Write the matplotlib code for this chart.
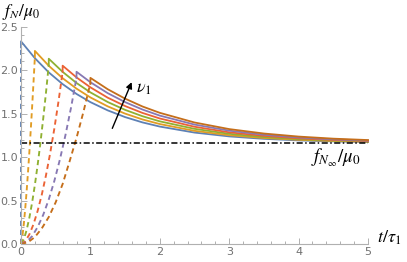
import numpy as np
import matplotlib
matplotlib.use("Agg")
import matplotlib.pyplot as plt
from matplotlib.ticker import MultipleLocator

plt.rcParams['mathtext.fontset'] = 'stix'

colors = ['#5E81B5', '#E19C24', '#8FB032', '#EB6235', '#8778B3', '#C56E1A']

# switch times and peak values
t_switch = [0.0, 0.2, 0.4, 0.6, 0.8, 1.0]
peaks = [2.33, 2.22, 2.13, 2.05, 1.98, 1.91]
f_inf = 1.164

# solid curves on a shared time grid (nan before each switch)
t_grid = [0, 0.2, 0.4, 0.6, 0.8, 1.0, 1.25, 1.5, 1.75, 2.0, 2.5, 3.0, 3.5, 4.0, 4.5, 5.0]
nan = float('nan')
solid_vals = [
    [2.330, 2.136, 1.973, 1.838, 1.725, 1.631, 1.536, 1.459, 1.398, 1.350, 1.281, 1.237, 1.209, 1.191, 1.180, 1.172],
    [nan, 2.220, 2.049, 1.906, 1.786, 1.685, 1.582, 1.499, 1.432, 1.379, 1.301, 1.251, 1.219, 1.198, 1.184, 1.176],
    [nan, nan, 2.130, 1.979, 1.851, 1.743, 1.632, 1.542, 1.469, 1.410, 1.324, 1.267, 1.230, 1.206, 1.190, 1.180],
    [nan, nan, nan, 2.050, 1.915, 1.801, 1.682, 1.586, 1.507, 1.443, 1.348, 1.284, 1.243, 1.215, 1.196, 1.184],
    [nan, nan, nan, nan, 1.980, 1.860, 1.734, 1.631, 1.546, 1.476, 1.373, 1.303, 1.256, 1.225, 1.203, 1.189],
    [nan, nan, nan, nan, nan, 1.910, 1.779, 1.671, 1.581, 1.508, 1.397, 1.321, 1.270, 1.235, 1.211, 1.195],
]

# dashed rising curves (time, value)
dash_t = [
    [0.0, 0.0],
    [0.0, 0.02, 0.04, 0.06, 0.08, 0.10, 0.12, 0.14, 0.16, 0.18, 0.20],
    [0.0, 0.04, 0.08, 0.12, 0.16, 0.20, 0.24, 0.28, 0.32, 0.36, 0.40],
    [0.0, 0.06, 0.12, 0.18, 0.24, 0.30, 0.36, 0.42, 0.48, 0.54, 0.60],
    [0.0, 0.08, 0.16, 0.24, 0.32, 0.40, 0.48, 0.56, 0.64, 0.72, 0.80],
    [0.0, 0.10, 0.20, 0.30, 0.40, 0.50, 0.60, 0.70, 0.80, 0.90, 1.00],
]
dash_v = [
    [0.0, 2.26],
    [0.0, 0.086, 0.226, 0.400, 0.596, 0.815, 1.052, 1.305, 1.573, 1.855, 2.15],
    [0.0, 0.052, 0.157, 0.300, 0.475, 0.680, 0.910, 1.164, 1.442, 1.740, 2.06],
    [0.0, 0.031, 0.109, 0.227, 0.381, 0.569, 0.790, 1.042, 1.325, 1.638, 1.98],
    [0.0, 0.024, 0.090, 0.195, 0.335, 0.512, 0.724, 0.970, 1.250, 1.564, 1.91],
    [0.0, 0.020, 0.080, 0.180, 0.310, 0.480, 0.690, 0.950, 1.220, 1.520, 1.85],
]

fig = plt.figure(figsize=(4.07, 2.62), dpi=100)
ax = fig.add_axes([0.0516, 0.0687, 0.8526, 0.830])

for k in range(len(colors)):
    ax.plot(dash_t[k], dash_v[k], color=colors[k], lw=1.35, dashes=(2.8, 2.0), clip_on=False)
    tt = [t_switch[k]] + t_grid[k:]
    vv = [peaks[k] - 0.07] + solid_vals[k][k:]
    ax.plot(tt, vv, color=colors[k], lw=1.3, clip_on=False)

ax.plot([0, 5], [f_inf, f_inf], color='black', lw=1.1, dashes=(4, 1.6, 1, 1.6))

ax.annotate('', xy=(1.61, 1.89), xytext=(1.30, 1.30),
            arrowprops=dict(arrowstyle='-|>', color='black', lw=1.0, mutation_scale=9))
ax.text(1.65, 1.79, r'$\nu_1$', fontsize=13, va='center', ha='left')
ax.text(4.9, 0.99, r'$f_{N_\infty}/\mu_0$', fontsize=13.5, va='center', ha='right')
ax.text(5.13, 0.07, r'$t/\tau_1$', fontsize=13, va='center', ha='left')
ax.text(-0.28, 2.67, r'$f_N/\mu_0$', fontsize=12.5, va='center', ha='left')

ax.set_xlim(0, 5)
ax.set_ylim(0, 2.5)
for s in ['top', 'right']:
    ax.spines[s].set_visible(False)
for s in ['left', 'bottom']:
    ax.spines[s].set_color('#b0b0b0')
    ax.spines[s].set_linewidth(0.8)

ax.xaxis.set_major_locator(MultipleLocator(1))
ax.xaxis.set_minor_locator(MultipleLocator(0.2))
ax.yaxis.set_major_locator(MultipleLocator(0.5))
ax.yaxis.set_minor_locator(MultipleLocator(0.1))
ax.set_yticks([0, 0.5, 1.0, 1.5, 2.0, 2.5])
ax.set_yticklabels(['0.0', '0.5', '1.0', '1.5', '2.0', '2.5'])
ax.tick_params(which='both', direction='in', color='#b0b0b0', labelcolor='#707070',
               labelsize=8, width=0.7)
ax.tick_params(which='major', length=4, pad=2)
ax.tick_params(which='minor', length=2.2)

fig.savefig('out.png', dpi=100)
